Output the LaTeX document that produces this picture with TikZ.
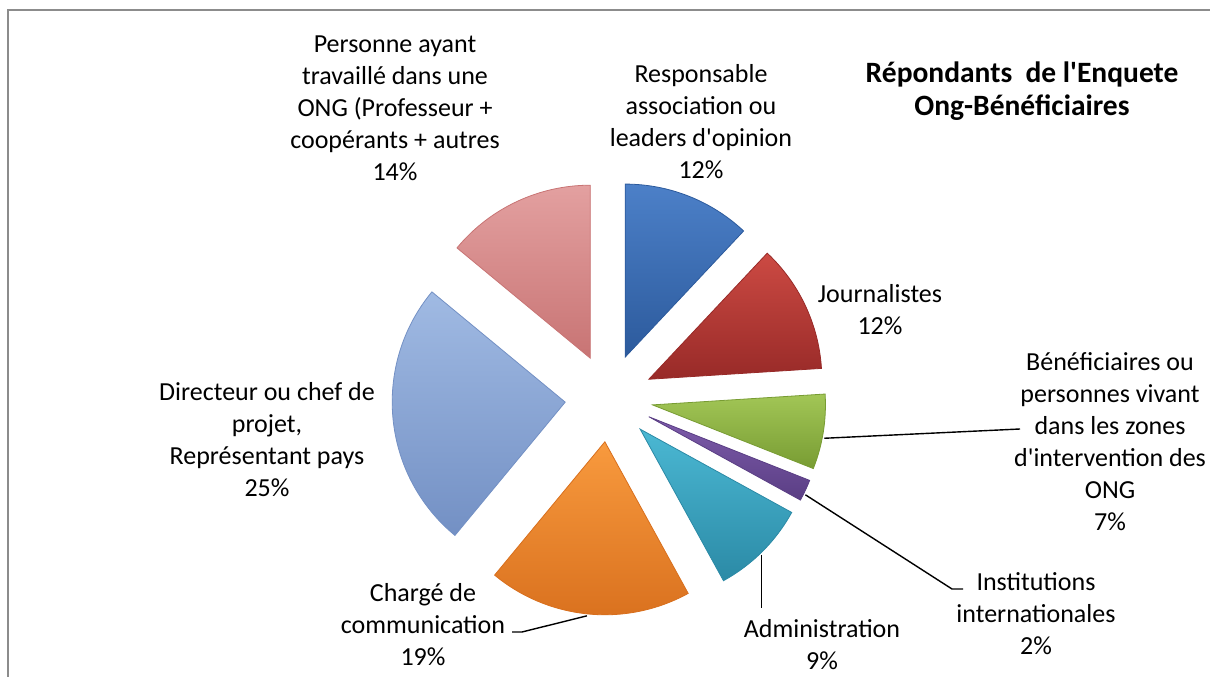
\documentclass[tikz,border=0pt]{standalone}
\usepackage{fontspec}
\setmainfont{Carlito}[Ligatures=TeXOff]
\usetikzlibrary{calc}
\definecolor{frameGray}{gray}{0.55}
\definecolor{respTop}{HTML}{4C80C8}
\definecolor{respBot}{HTML}{2C5A9C}
\definecolor{jourTop}{HTML}{CC4A43}
\definecolor{jourBot}{HTML}{982A28}
\definecolor{beneTop}{HTML}{A2C656}
\definecolor{beneBot}{HTML}{789C33}
\definecolor{instTop}{HTML}{7E5CAB}
\definecolor{instBot}{HTML}{5A3E84}
\definecolor{admTop}{HTML}{4BB8D3}
\definecolor{admBot}{HTML}{2B8AA6}
\definecolor{chaTop}{HTML}{F89A3E}
\definecolor{chaBot}{HTML}{D86F1D}
\definecolor{dirTop}{HTML}{A0BAE3}
\definecolor{dirBot}{HTML}{7390C4}
\definecolor{perTop}{HTML}{E3A0A0}
\definecolor{perBot}{HTML}{C87474}

\tikzset{
  lbl/.style={align=center, inner sep=0pt, font=\fontsize{26}{32}\selectfont},
  leader/.style={draw=black, line width=1.4pt},
}

% exploded slice: start angle, end angle, light colour, dark colour
\newcommand{\ongslice}[4]{%
  \pgfmathsetmacro{\midang}{(#1+#2)/2}
  \shadedraw[top color=#3, bottom color=#4, draw=#4, line width=0.8pt]
    ($(ctr)+(\midang:44)$) -- ++(#1:173) arc[start angle=#1, end angle=#2, radius=173] -- cycle;
}

\begin{document}
\begin{tikzpicture}[x=1pt,y=1pt]
		\useasboundingbox (0,0) rectangle (1210,677);
		%Frame
		\draw [frameGray, line width=2pt] (8,0) -- (8,667) -- (1210,667);
		%Slices
		\coordinate (ctr) at (609,279);
		\ongslice{90}{46.8}{respTop}{respBot}
		\ongslice{46.8}{3.6}{jourTop}{jourBot}
		\ongslice{3.6}{-21.6}{beneTop}{beneBot}
		\ongslice{-21.6}{-28.8}{instTop}{instBot}
		\ongslice{-28.8}{-61.2}{admTop}{admBot}
		\ongslice{-61.2}{-129.6}{chaTop}{chaBot}
		\ongslice{-129.6}{-219.6}{dirTop}{dirBot}
		\ongslice{-219.6}{-270}{perTop}{perBot}
		%Labels
		\node [lbl] (per) at (395,569) {Personne ayant\\travaillé dans une\\ONG (Professeur +\\coopérants + autres\\14\%};
		\node [lbl] (res) at (701,555) {Responsable\\association ou\\leaders d'opinion\\12\%};
		\node [lbl] (jou) at (880,367) {Journalistes\\12\%};
		\node [lbl] (ben) at (1110,235) {Bénéficiaires ou\\personnes vivant\\dans les zones\\d'intervention des\\ONG\\7\%};
		\node [lbl] (ins) at (1036,63) {Institutions\\internationales\\2\%};
		\node [lbl] (adm) at (822,32) {Administration\\9\%};
		\node [lbl] (cha) at (423,52) {Chargé de\\communication\\19\%};
		\node [lbl] (dir) at (267,237) {Directeur ou chef de\\projet,\\Représentant pays\\25\%};
		\node [lbl, font=\bfseries\fontsize{29.5}{33}\selectfont] (ttl) at (1022,586) {Répondants\ \ de l'Enquete\\Ong-Bénéficiaires};
		%Leader lines
		\coordinate (ben-tip) at ($(ctr)+(-9:44)+(-11:175)$);
		\coordinate (ben-end) at (1020,248);
		\coordinate (ins-tip) at ($(ctr)+(-25.2:44)+(-26.5:175)$);
		\coordinate (ins-knee) at (952,88);
		\coordinate (ins-end) at (963,88);
		\coordinate (adm-tip) at ($(ctr)+(-45:44)+(-46:175)$);
		\coordinate (adm-end) at (adm-tip |- 0,69);
		\coordinate (cha-tip) at ($(ctr)+(-95.4:44)+(-95.9:175)$);
		\coordinate (cha-knee) at (522,45);
		\coordinate (cha-end) at (512,45);
		\draw [leader] (ben-tip) -- (ben-end);
		\draw [leader] (ins-tip) -- (ins-knee) -- (ins-end);
		\draw [leader] (adm-tip) -- (adm-end);
		\draw [leader] (cha-tip) -- (cha-knee) -- (cha-end);
	\end{tikzpicture}
\end{document}
